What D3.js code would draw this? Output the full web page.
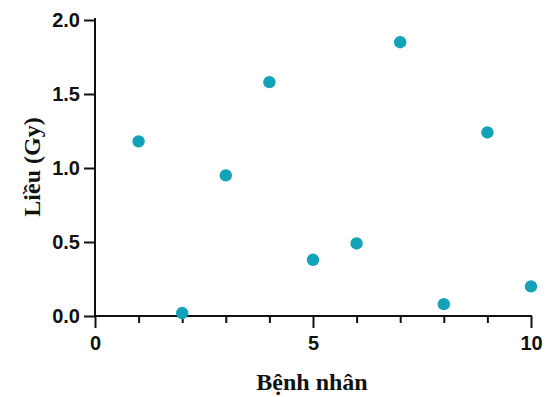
<!DOCTYPE html>
<html>
<head>
<meta charset="utf-8">
<script src="https://cdn.jsdelivr.net/npm/d3@7"></script>
<style>
  body { margin: 0; background: #fff; }
  .tick text { font-family: "Liberation Sans", Arial, sans-serif; font-weight: bold; font-size: 20px; fill: #111; }
  .axis-title { font-family: "Liberation Serif", "Times New Roman", serif; font-weight: bold; font-size: 24px; fill: #111; }
</style>
</head>
<body>
<div id="chart"></div>
<script>
// data
var patients = [1, 2, 3, 4, 5, 6, 7, 8, 9, 10];
var doses = [1.18, 0.02, 0.95, 1.58, 0.38, 0.49, 1.85, 0.08, 1.24, 0.20];
var yTicks = [0, 0.5, 1.0, 1.5, 2.0];
var xMajorTicks = [0, 5, 10];
var xMinorTicks = [1, 2, 3, 4, 6, 7, 8, 9];

var svgWidth = 550;
var svgHeight = 397;
var margin = { top: 20, right: 19, bottom: 81, left: 95 };
var width = svgWidth - margin.left - margin.right;
var height = svgHeight - margin.top - margin.bottom;

var svg = d3.select("#chart")
    .append("svg")
    .attr("width", svgWidth)
    .attr("height", svgHeight);

var chartGroup = svg.append("g")
    .attr("transform", `translate(${margin.left}, ${margin.top})`);

var x = d3.scaleLinear().domain([0, 10]).range([0, width]);
var y = d3.scaleLinear().domain([0, 2]).range([height, 0]);

// y axis
var yAxis = chartGroup.append("g")
    .call(d3.axisLeft(y).tickValues(yTicks).tickSize(11).tickPadding(4)
        .tickFormat(d3.format(".1f")));

// x axis: minor ticks first, then major with labels
var xMinor = chartGroup.append("g")
    .attr("transform", `translate(0, ${height})`)
    .call(d3.axisBottom(x).tickValues(xMinorTicks).tickSize(7).tickFormat(""));

var xAxis = chartGroup.append("g")
    .attr("transform", `translate(0, ${height})`)
    .call(d3.axisBottom(x).tickValues(xMajorTicks).tickSize(12).tickPadding(8));

[yAxis, xMinor, xAxis].forEach(function(g) {
    g.selectAll(".domain").attr("stroke", "#111").attr("stroke-width", 2)
        .attr("stroke-linecap", "square");
    g.selectAll(".tick line").attr("stroke", "#111").attr("stroke-width", 2);
});
xMinor.select(".domain").remove();
// plain axis lines without the end caps
yAxis.select(".domain").attr("d", `M0,${height}V-1`);
xAxis.select(".domain").attr("d", `M0,0H${width}`);

// points
chartGroup.selectAll("circle")
    .data(patients)
    .enter()
    .append("circle")
    .attr("cx", (d, i) => x(d))
    .attr("cy", (d, i) => y(doses[i]))
    .attr("r", 6.2)
    .attr("fill", "#14a2b9");

// axis titles
chartGroup.append("text")
    .attr("class", "axis-title")
    .attr("transform", "rotate(-90)")
    .attr("x", -height / 2 + 1)
    .attr("y", -55)
    .attr("text-anchor", "middle")
    .text("Liều (Gy)");

chartGroup.append("text")
    .attr("class", "axis-title")
    .attr("x", width / 2 - 1)
    .attr("y", height + 74)
    .attr("text-anchor", "middle")
    .text("Bệnh nhân");
</script>
</body>
</html>
